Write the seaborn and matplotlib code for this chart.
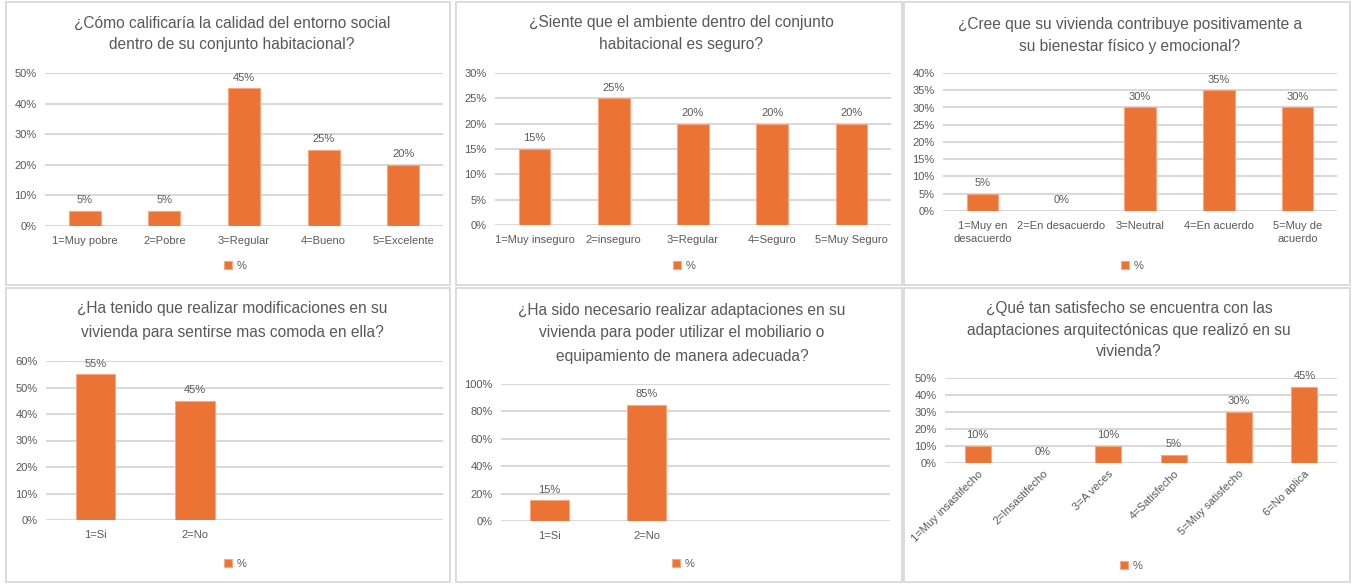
import matplotlib
matplotlib.use("Agg")
import matplotlib.pyplot as plt
import seaborn as sns
from matplotlib.patches import Rectangle

sns.set_theme(style="white")
plt.rcParams['font.family'] = ['Liberation Sans', 'DejaVu Sans']

ORANGE = "#EB7334"
EDGE = "#F5A882"
TEXT = "#595959"
GRID = "#D9D9D9"

# ---- survey results (percent of respondents) ----
q1_title = ["¿Cómo calificaría la calidad del entorno social",
            "dentro de su conjunto habitacional?"]
q1_cats = ["1=Muy pobre", "2=Pobre", "3=Regular", "4=Bueno", "5=Excelente"]
q1_vals = [5, 5, 45, 25, 20]

q2_title = ["¿Siente que el ambiente dentro del conjunto",
            "habitacional es seguro?"]
q2_cats = ["1=Muy inseguro", "2=inseguro", "3=Regular", "4=Seguro", "5=Muy Seguro"]
q2_vals = [15, 25, 20, 20, 20]

q3_title = ["¿Cree que su vivienda contribuye positivamente a",
            "su bienestar físico y emocional?"]
q3_cats = ["1=Muy en\ndesacuerdo", "2=En desacuerdo", "3=Neutral",
           "4=En acuerdo", "5=Muy de\nacuerdo"]
q3_vals = [5, 0, 30, 35, 30]

q4_title = ["¿Ha tenido que realizar modificaciones en su",
            "vivienda para sentirse mas comoda en ella?"]
q4_cats = ["1=Si", "2=No"]
q4_vals = [55, 45]

q5_title = ["¿Ha sido necesario realizar adaptaciones en su",
            "vivienda para poder utilizar el mobiliario o",
            "equipamiento de manera adecuada?"]
q5_cats = ["1=Si", "2=No"]
q5_vals = [15, 85]

q6_title = ["¿Qué tan satisfecho se encuentra con las",
            "adaptaciones arquitectónicas que realizó en su",
            "vivienda?"]
q6_cats = ["1=Muy insastifecho", "2=Insastifecho", "3=A veces",
           "4=Satisfecho", "5=Muy satisfecho", "6=No aplica"]
q6_vals = [10, 0, 10, 5, 30, 45]

legend_label = "%"

W, H = 1354, 584
fig = plt.figure(figsize=(W / 100, H / 100), dpi=100)
fig.patch.set_facecolor("white")


def fx(x):
    return x / W


def fy(y):
    return 1 - y / H


# panel layout in pixels
panels = [
    dict(title=q1_title, cats=q1_cats, vals=q1_vals, box=(6, 2, 450, 285),
         ax=(45, 443, 73, 226), ymax=50, step=10, slots=5, tx=232,
         ty=[23, 45], leg=(235, 266), rot=False),
    dict(title=q2_title, cats=q2_cats, vals=q2_vals, box=(456, 2, 902, 285),
         ax=(495, 891, 73, 225), ymax=30, step=5, slots=5, tx=681,
         ty=[23, 45], leg=(684, 266), rot=False),
    dict(title=q3_title, cats=q3_cats, vals=q3_vals, box=(904, 2, 1350, 285),
         ax=(943, 1337, 73, 211), ymax=40, step=5, slots=5, tx=1130,
         ty=[25, 47], leg=(1132, 266), rot=False),
    dict(title=q4_title, cats=q4_cats, vals=q4_vals, box=(6, 288, 450, 582),
         ax=(46, 443, 361, 520), ymax=60, step=10, slots=4, tx=232,
         ty=[309, 333], leg=(235, 564), rot=False),
    dict(title=q5_title, cats=q5_cats, vals=q5_vals, box=(456, 288, 902, 582),
         ax=(501, 890, 384, 521), ymax=100, step=20, slots=4, tx=682,
         ty=[310, 333, 357], leg=(683, 564), rot=False),
    dict(title=q6_title, cats=q6_cats, vals=q6_vals, box=(904, 288, 1350, 582),
         ax=(945, 1337, 378, 463), ymax=50, step=10, slots=6, tx=1129,
         ty=[308, 330, 352], leg=(1131, 566), rot=True),
]

FS = 8

for p in panels:
    x0, y0, x1, y1 = p["box"]
    fig.patches.append(Rectangle((fx(x0), fy(y1)), fx(x1 - x0), (y1 - y0) / H,
                                 transform=fig.transFigure, fill=False,
                                 edgecolor=GRID, linewidth=1.3, zorder=0))

    for line, yy in zip(p["title"], p["ty"]):
        fig.text(fx(p["tx"]), fy(yy), line, ha="center", va="center",
                 fontsize=11.2, color=TEXT)

    l, r, t, b = p["ax"]
    ax = fig.add_axes([fx(l), fy(b), fx(r - l), (b - t) / H])
    sns.barplot(x=p["cats"], y=p["vals"], color=ORANGE, saturation=1,
                width=0.4, linewidth=0.8, edgecolor=EDGE,
                label=legend_label, ax=ax)
    ax.bar_label(ax.containers[0], labels=[f"{v}%" for v in p["vals"]],
                 padding=4, fontsize=FS, color=TEXT)

    ax.set_xlim(-0.5, p["slots"] - 0.5)
    ax.set_ylim(0, p["ymax"])
    ticks = list(range(0, p["ymax"] + 1, p["step"]))
    ax.set_yticks(ticks)
    ax.set_yticklabels([f"{t}%" for t in ticks])
    ax.yaxis.grid(True, color=GRID, linewidth=1.5)
    ax.set_axisbelow(True)
    for s in ax.spines.values():
        s.set_visible(False)
    ax.tick_params(axis="y", length=0, pad=6, labelsize=FS, labelcolor=TEXT)
    if p["rot"]:
        ax.tick_params(axis="x", length=0, pad=4, labelsize=FS, labelcolor=TEXT)
        for lab in ax.get_xticklabels():
            lab.set_rotation(45)
            lab.set_ha("right")
            lab.set_rotation_mode("anchor")
    else:
        ax.tick_params(axis="x", length=0, pad=7, labelsize=FS, labelcolor=TEXT)
        for lab in ax.get_xticklabels():
            lab.set_linespacing(1.45)
    ax.set_xlabel("")
    ax.set_ylabel("")
    ax.patch.set_alpha(0)

    lx, ly = p["leg"]
    leg = ax.legend(loc="center", bbox_to_anchor=(fx(lx), fy(ly)),
                    bbox_transform=fig.transFigure, frameon=False,
                    handlelength=0.7, handleheight=0.7, handletextpad=0.4,
                    fontsize=FS)
    for txt in leg.get_texts():
        txt.set_color(TEXT)

fig.savefig("out.png", dpi=100, facecolor="white")
